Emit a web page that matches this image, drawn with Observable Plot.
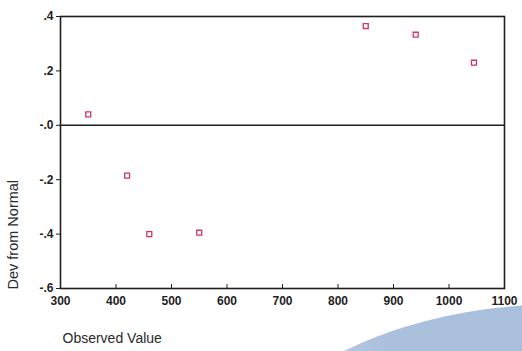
<!DOCTYPE html>
<html>
<head>
<meta charset="utf-8">
<script src="https://cdn.jsdelivr.net/npm/d3@7"></script>
<script src="https://cdn.jsdelivr.net/npm/@observablehq/plot@0.6"></script>
<style>
  html, body { margin: 0; padding: 0; background: #fff; overflow: hidden; }
  #wrap { position: relative; width: 522px; height: 351px; overflow: hidden; }
  #swoosh { position: absolute; left: 222px; top: 304px; width: 684px; height: 400px; border-radius: 50%;
    background: linear-gradient(90deg, #c9d6ea 0%, #abc0dd 25%, #a6bcdb 100%); }
  #chart { position: absolute; left: 0; top: 0; }
</style>
</head>
<body>
<div id="wrap"><div id="swoosh"></div><div id="chart"></div></div>
<script>
const observed = [350, 420, 460, 550, 850, 940, 1045];
const deviation = [0.04, -0.185, -0.40, -0.395, 0.365, 0.333, 0.23];
const xTicks = [300, 400, 500, 600, 700, 800, 900, 1000, 1100];
const yTicks = [0.4, 0.2, 0, -0.2, -0.4, -0.6];
const yTickLabels = [".4", ".2", "-.0", "-.2", "-.4", "-.6"];
const xTitle = "Observed Value";
const yTitle = "Dev from Normal";

const points = observed.map((x, i) => ({x, y: deviation[i]}));
const ink = "#1e1e1e";

const chart = Plot.plot({
  width: 522,
  height: 351,
  marginLeft: 60,
  marginRight: 18,
  marginTop: 16,
  marginBottom: 63,
  style: {fontFamily: "'Liberation Sans', Arial, sans-serif", fontSize: "12px", background: "transparent", color: ink},
  x: {domain: [300, 1100], label: null},
  y: {domain: [-0.6, 0.4], label: null},
  marks: [
    Plot.frame({stroke: ink, strokeWidth: 1.6}),
    Plot.ruleY([0], {stroke: ink, strokeWidth: 1.6}),
    Plot.tickX(xTicks, {x: d => d, insetTop: 268, stroke: ink, strokeWidth: 1}),
    Plot.axisX({ticks: xTicks, tickSize: 0, tickPadding: 8, fontWeight: "bold", fill: ink, tickFormat: d => String(d)}),
    Plot.axisY({ticks: yTicks, tickSize: 4, tickPadding: 3, fontWeight: "bold", fill: ink, stroke: ink,
      tickFormat: d => yTickLabels[yTicks.indexOf(d)]}),
    Plot.dot(points, {x: "x", y: "y", symbol: "square", r: 2.8, stroke: "#d3336a", strokeWidth: 1.3, fill: "none"}),
    Plot.text([yTitle], {frameAnchor: "bottom-left", rotate: -90, textAnchor: "start", dx: -43, dy: 1, fontSize: 14.5, fill: "#2a2a2a"}),
    Plot.text([xTitle], {frameAnchor: "bottom-left", textAnchor: "start", dx: 2, dy: 54, fontSize: 14, fill: "#2a2a2a"})
  ]
});
document.getElementById("chart").appendChild(chart);
</script>
</body>
</html>
